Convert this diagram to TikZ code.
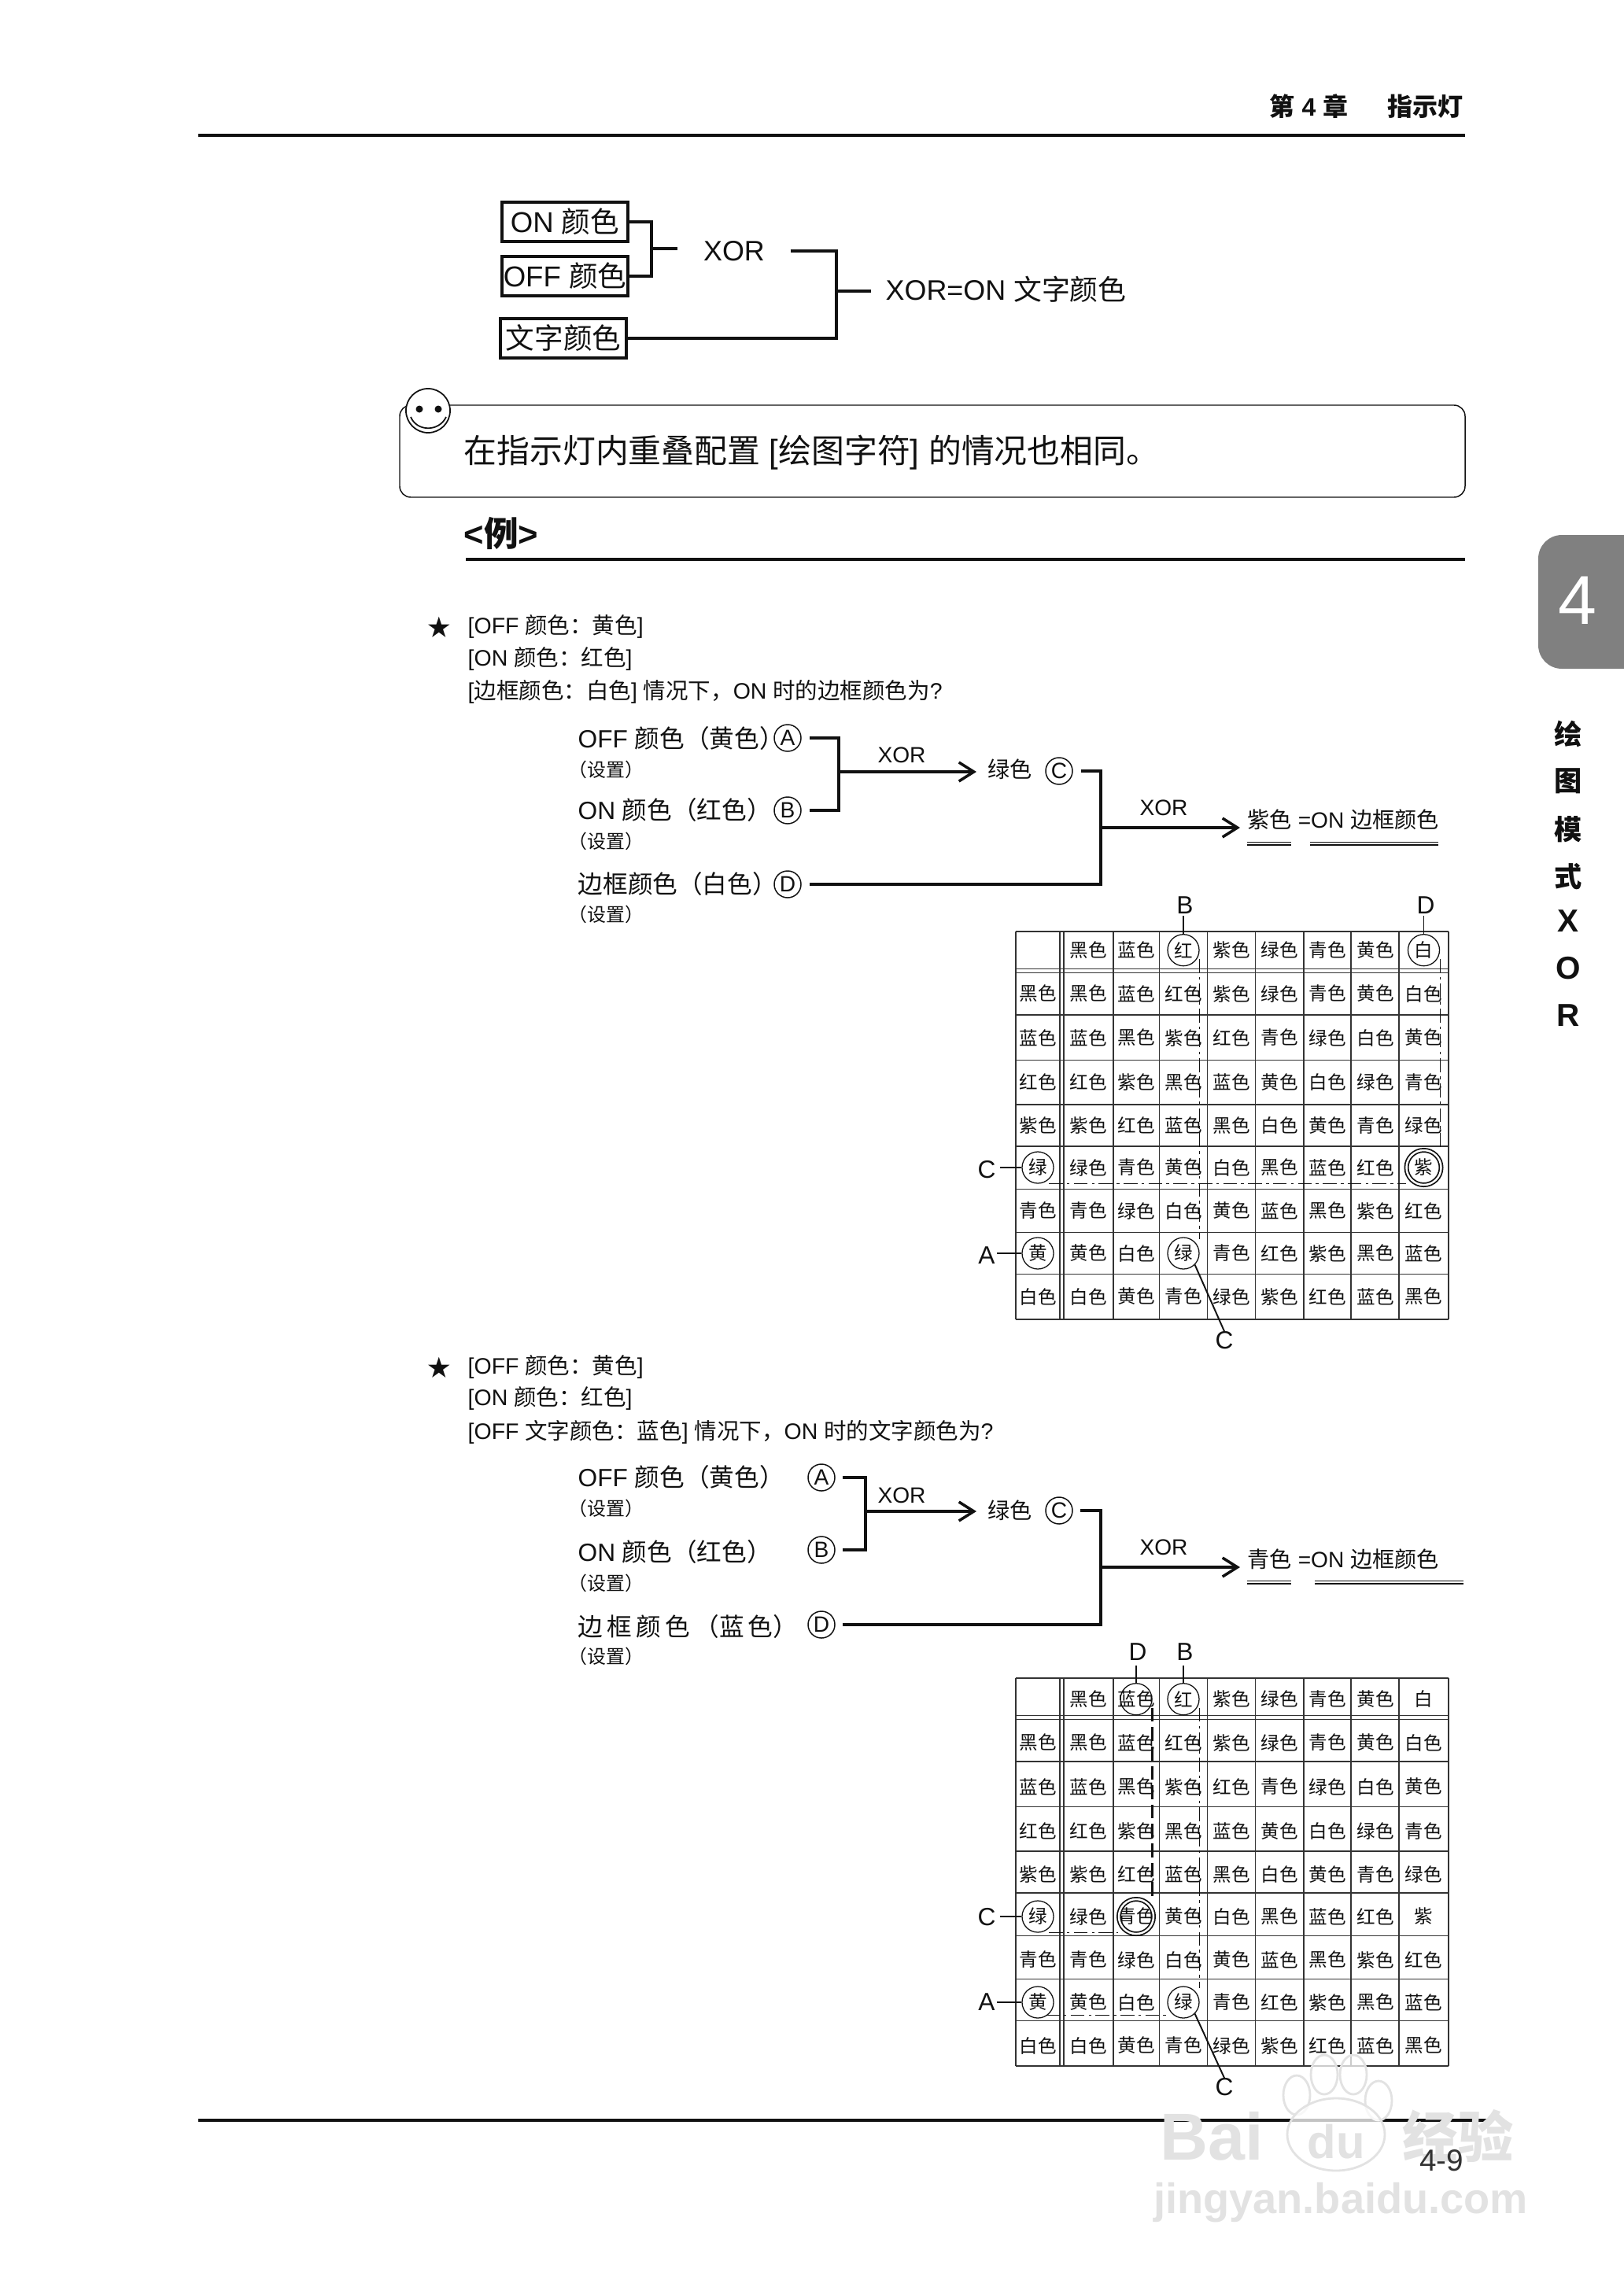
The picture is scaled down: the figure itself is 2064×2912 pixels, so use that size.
\documentclass[tikz,border=0pt]{standalone}
\usepackage{fontspec}
\setmainfont{Liberation Sans}
\newfontfamily\cjk{Noto Sans CJK SC}
\usetikzlibrary{arrows.meta}
\definecolor{InkBlack}{HTML}{111111}
\definecolor{GridGray}{HTML}{333333}
\definecolor{TabGray}{HTML}{808080}
\definecolor{MarkGray}{HTML}{E2E2E2}
\newcommand{\zh}[1]{{\cjk #1}}

% grid with its colour names: name prefix, top edge, text offset
\newcommand{\colorgrid}[3]{
  \foreach \gx in {0,56.2,61.1,123.9,182.5,243.6,304.7,366.2,426.1,487.2,550}{
    \draw[gridline] ({1291+\gx},#2) -- ({1291+\gx},{#2+493});
  }
  \foreach \gy in {0,47.5,52.4,106,163.4,220,272.9,327.6,382.4,435.5,493}{
    \draw[gridline] (1291,{#2+\gy}) -- (1841,{#2+\gy});
  }
  \foreach \ry/\cells [count=\rowno from 0] in {
      23.7/{{},黑色,蓝色,红,紫色,绿色,青色,黄色,白},
      79/{黑色,黑色,蓝色,红色,紫色,绿色,青色,黄色,白色},
      135/{蓝色,蓝色,黑色,紫色,红色,青色,绿色,白色,黄色},
      191.7/{红色,红色,紫色,黑色,蓝色,黄色,白色,绿色,青色},
      246.5/{紫色,紫色,红色,蓝色,黑色,白色,黄色,青色,绿色},
      300/{绿,绿色,青色,黄色,白色,黑色,蓝色,红色,紫},
      355/{青色,青色,绿色,白色,黄色,蓝色,黑色,紫色,红色},
      409/{黄,黄色,白色,绿,青色,红色,紫色,黑色,蓝色},
      464/{白色,白色,黄色,青色,绿色,紫色,红色,蓝色,黑色}}{
    \foreach \celltxt [count=\colno from 0] in \cells {
      \pgfmathsetmacro\cx{{28,92.5,153,213,274,335,396,457,518.5}[\colno]}
      \node[cellname] (#1-\rowno-\colno) at ({1291+\cx},{#2+\ry+#3}) {\zh{\celltxt}};
    }
  }
}

\begin{document}
\begin{tikzpicture}[x=0.01cm, y=-0.01cm, color=InkBlack,
    gridline/.style={GridGray, line width=0.42pt},
    cellname/.style={inner sep=0pt, font=\fontsize{6.7}{8}\selectfont},
    rule/.style={line width=1.1pt},
    wire/.style={line width=0.95pt},
    wirethin/.style={line width=0.55pt},
    wirearrow/.style={line width=1pt, -{Straight Barb[length=0.19cm, width=0.24cm]}},
    colorbox/.style={draw, line width=1pt, inner sep=0pt, minimum width=1.6cm, minimum height=0.5cm,
      font=\fontsize{10.4}{12}\selectfont},
    bigtxt/.style={inner sep=0pt, font=\fontsize{10.2}{12}\selectfont},
    captxt/.style={anchor=west, inner sep=0pt, font=\fontsize{8.1}{10}\selectfont},
    srctxt/.style={anchor=west, inner sep=0pt, font=\fontsize{9}{11}\selectfont},
    subtxt/.style={anchor=west, inner sep=0pt, font=\fontsize{6.8}{8}\selectfont},
    xortxt/.style={inner sep=0pt, font=\fontsize{8}{10}\selectfont},
    restxt/.style={anchor=west, inner sep=0pt, font=\fontsize{8}{10}\selectfont},
    letterc/.style={draw, circle, line width=0.42pt, inner sep=0pt, minimum size=0.34cm,
      font=\fontsize{8}{10}\selectfont},
    ring/.style={draw, circle, line width=0.36pt, inner sep=0pt, minimum size=0.4cm},
    ringtwo/.style={draw, circle, line width=0.5pt, double, double distance=0.7pt,
      inner sep=0pt, minimum size=0.44cm},
    marklabel/.style={inner sep=0pt, font=\fontsize{9}{11}\selectfont},
    guide/.style={line width=0.35pt, dash pattern=on 5pt off 1.5pt on 1pt off 1.5pt},
    guidebold/.style={line width=0.7pt, dash pattern=on 5pt off 2pt},
    dbl/.style={double, double distance=0.7pt, line width=0.36pt},
    sidetxt/.style={inner sep=0pt, font=\fontsize{10}{12}\selectfont\bfseries},
    marktxt/.style={inner sep=0pt, MarkGray, font=\bfseries},
    toe/.style={draw=MarkGray, fill=white, line width=0.8pt, fill opacity=0.75}]
  \useasboundingbox (0,0) rectangle (2064,2912);

  % Page head
  \node[anchor=west, inner sep=0pt, font=\fontsize{9.1}{11}\selectfont] (chaptxt) at (1613,135)
    {\zh{\bfseries 第} \textbf{4} \zh{\bfseries 章}};
  \node[anchor=east, inner sep=0pt, font=\fontsize{9.1}{11}\selectfont] (headtxt) at (1860,135)
    {\zh{\bfseries 指示灯}};
  \coordinate (headl) at (252,172);
  \coordinate (headr) at (1862,172);
  \draw[rule] (headl) -- (headr);

  % Rule at the top of the page
  \node[colorbox] (onbox) at (718,282) {ON \zh{颜色}};
  \node[colorbox] (offbox) at (718,351) {OFF \zh{颜色}};
  \node[colorbox] (textbox) at (716,430) {\zh{文字颜色}};
  \node[bigtxt] (xortop) at (933,319) {XOR};
  \node[bigtxt, anchor=west] (restop) at (1125,368) {XOR=ON \zh{文字颜色}};
  \coordinate (jointa) at (828,316);
  \coordinate (jointb) at (1063,370);
  \draw[wire] (onbox.east) -| (jointa);
  \draw[wire] (offbox.east) -| (jointa);
  \draw[wire, shorten >=0.32cm] (jointa) -- (jointa -| xortop.west);
  \draw[wire, shorten <=0.32cm] (xortop.east) -| (jointb);
  \draw[wire] (textbox.east) -| (jointb);
  \draw[wire, shorten >=0.18cm] (jointb) -- (jointb -| restop.west);

  % Note box with the smiley
  \draw[rounded corners=0.14cm, line width=0.42pt] (508,515) rectangle (1862,632);
  \node[draw, circle, fill=white, line width=0.5pt, inner sep=0pt, minimum size=0.56cm] (smiley) at (544,522) {};
  \fill (533,520) circle (4.5);
  \fill (557,520) circle (4.5);
  \draw[line width=0.5pt] (522,530) .. controls (530,549) and (558,549) .. (567,530);
  \node[anchor=west, inner sep=0pt, font=\fontsize{11.9}{14}\selectfont] (notetxt) at (589,575)
    {\zh{在指示灯内重叠配置} [\zh{绘图字符}] \zh{的情况也相同。}};

  % Example heading
  \node[anchor=west, inner sep=0pt, font=\fontsize{12.4}{15}\selectfont] (exhead) at (589,678)
    {\textbf{<}\zh{\bfseries 例}\textbf{>}};
  \coordinate (exl) at (592,711);
  \coordinate (exr) at (1862,711);
  \draw[rule] (exl) -- (exr);

  % First example
  \node[inner sep=0pt, font=\fontsize{8.4}{10}\selectfont] (stara) at (558,797) {\zh{★}};
  \node[captxt] (capaa) at (594,796) {[OFF \zh{颜色：黄色}]};
  \node[captxt] (capab) at (594,837) {[ON \zh{颜色：红色}]};
  \node[captxt] (capac) at (594,879) {[\zh{边框颜色：白色}] \zh{情况下，}ON \zh{时的边框颜色为}?};

  \node[srctxt] (offa) at (734,938) {OFF \zh{颜色（黄色）}};
  \node[subtxt] (seta) at (722,978) {\zh{（设置）}};
  \node[srctxt] (ona) at (734,1029) {ON \zh{颜色（红色）}};
  \node[subtxt] (setb) at (722,1069) {\zh{（设置）}};
  \node[srctxt] (bora) at (734,1123) {\zh{边框颜色（白色）}};
  \node[subtxt] (setc) at (722,1162) {\zh{（设置）}};
  \node[letterc] (la) at (1001,938) {A};
  \node[letterc] (lb) at (1001,1030) {B};
  \node[letterc] (ld) at (1001,1124) {D};
  \node[restxt] (greena) at (1255,978) {\zh{绿色}};
  \node[letterc] (lc) at (1346,980) {C};
  \node[xortxt] (xora) at (1146,960) {XOR};
  \node[xortxt] (xorb) at (1479,1027) {XOR};
  \node[restxt] (resa) at (1585,1042) {\zh{紫色} =ON \zh{边框颜色}};
  \coordinate (jointc) at (1066,981);
  \coordinate (jointd) at (1399,1052);
  \draw[wire, shorten <=0.1cm] (la.east) -| (jointc);
  \draw[wire, shorten <=0.1cm] (lb.east) -| (jointc);
  \draw[wirearrow, shorten >=0.14cm] (jointc) -- (jointc -| greena.west);
  \draw[wire, shorten <=0.1cm] (lc.east) -| (jointd);
  \draw[wire, shorten <=0.1cm] (ld.east) -| (jointd);
  \draw[wirearrow, shorten >=0.09cm] (jointd) -- (jointd -| resa.west);
  \draw[dbl] (1585,1072) -- (1641,1072);
  \draw[dbl] (1665,1072) -- (1828,1072);

  % First table
  \colorgrid{ta}{1184}{0}
  \node[ring] (redA) at (ta-0-3) {};
  \node[ring] (whiteA) at (ta-0-8) {};
  \node[ring] (greenA) at (ta-5-0) {};
  \node[ring] (yellowA) at (ta-7-0) {};
  \node[ring] (mixA) at (ta-7-3) {};
  \node[ringtwo] (purpleA) at (ta-5-8) {};
  \node[marklabel] (markBa) at (1506,1151) {B};
  \node[marklabel] (markDa) at (1812,1151) {D};
  \node[marklabel] (markCa) at (1254,1487) {C};
  \node[marklabel] (markAa) at (1254,1596) {A};
  \node[marklabel] (markMa) at (1556,1704) {C};
  \draw[wirethin] (redA.north) -- +(0,-23);
  \draw[wirethin] (whiteA.north) -- +(0,-23);
  \draw[wirethin] (greenA.west) -- +(-27,0);
  \draw[wirethin] (yellowA.west) -- +(-31,0);
  \draw[wirethin] (mixA.south east) -- (markMa.north);
  \draw[guide, shorten <=0.11cm, shorten >=0.18cm] (redA.east) -- (redA.east |- mixA.center);
  \draw[guide, shorten <=0.11cm] (whiteA.east) -- (whiteA.east |- purpleA.north);
  \draw[guide, shorten <=0.14cm] (greenA.south) -- (greenA.south -| purpleA.west);

  % Second example
  \node[inner sep=0pt, font=\fontsize{8.4}{10}\selectfont] (starb) at (558,1738) {\zh{★}};
  \node[captxt] (capba) at (594,1737) {[OFF \zh{颜色：黄色}]};
  \node[captxt] (capbb) at (594,1777) {[ON \zh{颜色：红色}]};
  \node[captxt] (capbc) at (594,1820) {[OFF \zh{文字颜色：蓝色}] \zh{情况下，}ON \zh{时的文字颜色为}?};

  \node[srctxt] (offb) at (734,1877) {OFF \zh{颜色（黄色）}};
  \node[subtxt] (setd) at (722,1917) {\zh{（设置）}};
  \node[srctxt] (onb) at (734,1972) {ON \zh{颜色（红色）}};
  \node[subtxt] (sete) at (722,2012) {\zh{（设置）}};
  \node[srctxt] (borb) at (734,2067) {\zh{边\,框\,颜\,色\,（蓝\,色）}};
  \node[subtxt] (setf) at (722,2105) {\zh{（设置）}};
  \node[letterc] (lpa) at (1044,1878) {A};
  \node[letterc] (lpb) at (1044,1970) {B};
  \node[letterc] (lpd) at (1044,2065) {D};
  \node[restxt] (greenb) at (1255,1920) {\zh{绿色}};
  \node[letterc] (lpc) at (1346,1920) {C};
  \node[xortxt] (xorc) at (1146,1901) {XOR};
  \node[xortxt] (xord) at (1479,1967) {XOR};
  \node[restxt] (resb) at (1585,1982) {\zh{青色} =ON \zh{边框颜色}};
  \coordinate (jointe) at (1100,1921);
  \coordinate (jointf) at (1399,1992);
  \draw[wire, shorten <=0.09cm] (lpa.east) -| (jointe);
  \draw[wire, shorten <=0.09cm] (lpb.east) -| (jointe);
  \draw[wirearrow, shorten >=0.14cm] (jointe) -- (jointe -| greenb.west);
  \draw[wire, shorten <=0.09cm] (lpc.east) -| (jointf);
  \draw[wire, shorten <=0.09cm] (lpd.east) -| (jointf);
  \draw[wirearrow, shorten >=0.09cm] (jointf) -- (jointf -| resb.west);
  \draw[dbl] (1585,2011) -- (1641,2011);
  \draw[dbl] (1671,2011) -- (1860,2011);

  % Second table
  \colorgrid{tb}{2133}{3}
  \node[ring] (blueB) at (tb-0-2) {};
  \node[ring] (redB) at (tb-0-3) {};
  \node[ring] (greenB) at (tb-5-0) {};
  \node[ring] (yellowB) at (tb-7-0) {};
  \node[ring] (mixB) at (tb-7-3) {};
  \node[ringtwo] (cyanB) at (tb-5-2) {};
  \node[marklabel] (markDb) at (1446,2100) {D};
  \node[marklabel] (markBb) at (1506,2100) {B};
  \node[marklabel] (markCb) at (1254,2437) {C};
  \node[marklabel] (markAb) at (1254,2545) {A};
  \node[marklabel] (markMb) at (1556,2653) {C};
  \draw[wirethin] (blueB.north) -- +(0,-22);
  \draw[wirethin] (redB.north) -- +(0,-22);
  \draw[wirethin] (greenB.west) -- +(-27,0);
  \draw[wirethin] (yellowB.west) -- +(-31,0);
  \draw[wirethin] (mixB.south east) -- (markMb.north);
  \draw[guidebold, shorten <=0.11cm] (blueB.east) -- (blueB.east |- cyanB.north);
  \draw[guide, shorten <=0.11cm, shorten >=0.18cm] (redB.east) -- (redB.east |- mixB.center);
  \draw[guide, shorten <=0.14cm] (greenB.south) -- (greenB.south -| cyanB.west);
  \draw[guide, shorten <=0.1cm] ([yshift=0.04cm]yellowB.south) -- ([yshift=0.04cm]yellowB.south -| mixB.west);

  % Chapter tab on the right edge
  \fill[TabGray, rounded corners=0.3cm] (1955,680) rectangle (2110,850);
  \node[white, inner sep=0pt, font=\fontsize{25}{29}\selectfont] (tabnum) at (2005,763) {4};
  \foreach \sy/\sch in {933/绘, 993/图, 1054/模, 1114/式}{
    \node[sidetxt] (side-\sy) at (1993,\sy) {\zh{\bfseries \sch}};
  }
  \foreach \sy/\sch in {1171/X, 1231/O, 1291/R}{
    \node[sidetxt, font=\fontsize{11.5}{14}\selectfont\bfseries] (side-\sy) at (1993,\sy) {\sch};
  }

  % Page foot
  \coordinate (footl) at (252,2695);
  \coordinate (footr) at (1889,2695);
  \draw[rule] (footl) -- (footr);

  % Watermark over the foot
  \node[marktxt, font=\fontsize{24}{28}\selectfont\bfseries] (wmbai) at (1540,2715) {Bai};
  \foreach \tx/\ty in {1648/2663, 1683/2637, 1720/2637, 1752/2670}{
    \draw[toe] (\tx,\ty) ellipse (17 and 25);
  }
  \draw[toe] (1698,2713) ellipse (62 and 46);
  \node[marktxt, font=\fontsize{17}{20}\selectfont\bfseries] (wmdu) at (1698,2722) {du};
  \node[marktxt, font=\fontsize{20}{24}\selectfont] (wmjy) at (1853,2715) {\zh{\bfseries 经验}};
  \node[marktxt, font=\fontsize{15.4}{18}\selectfont\bfseries] (wmurl) at (1704,2800) {jingyan.baidu.com};

  \node[inner sep=0pt, GridGray, font=\fontsize{11}{13}\selectfont] (pageno) at (1832,2746) {4-9};
\end{tikzpicture}
\end{document}
